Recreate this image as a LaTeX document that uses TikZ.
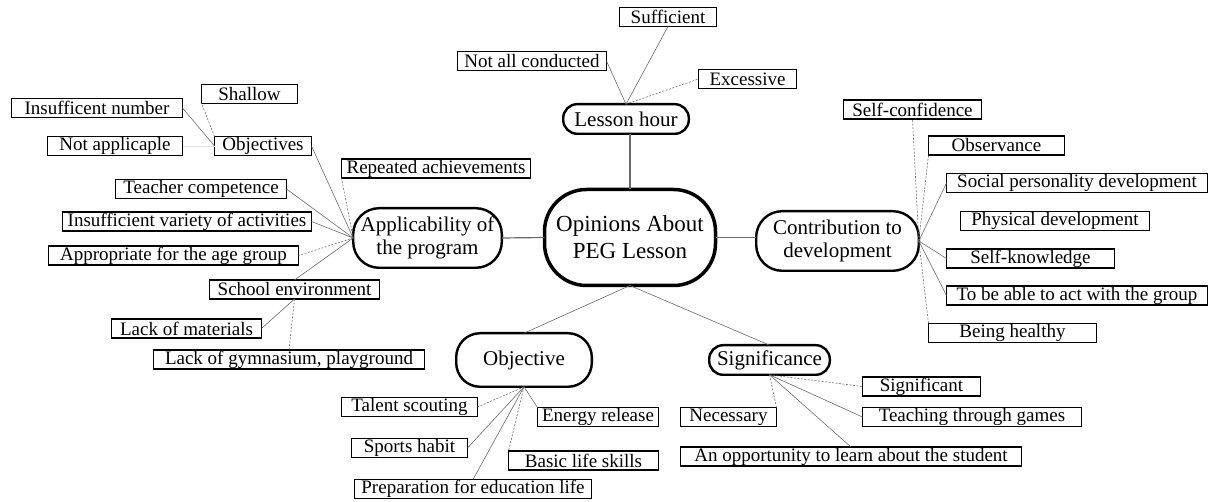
\documentclass[tikz,border=0pt]{standalone}
\usepackage{fontspec}
\setmainfont{Liberation Serif}
\usepackage{xcolor}
\definecolor{lnkgray}{RGB}{105,105,105}
\definecolor{faint}{RGB}{225,225,225}
\usepackage{tikz}
\tikzset{
  leaf/.style={draw,line width=1.1pt,inner sep=0pt,outer sep=0pt,minimum height=19pt,font=\fontsize{19}{21}\selectfont},
  topic/.style={draw,line width=2.4pt,rounded corners=#1,inner sep=0pt,outer sep=0pt,align=center,font=\fontsize{21}{23}\selectfont},
  hub/.style={draw,line width=3.5pt,rounded corners=42pt,inner sep=0pt,outer sep=0pt,align=center,font=\fontsize{23}{27}\selectfont},
  link/.style={draw=lnkgray,line width=0.6pt},
  dlink/.style={link,dash pattern=on 2pt off 1.5pt},
  trunk/.style={draw=lnkgray,line width=1.2pt}
}
\newcommand{\lnk}[2]{\draw[link] (#1) -- (#2);}
\newcommand{\dlnk}[2]{\draw[dlink] (#1) -- (#2);}

\begin{document}
\begin{tikzpicture}[x=1pt,y=-1pt]
\useasboundingbox (0,0) rectangle (1211,502);
% ---- CENTRE AND TOPICS ----
\node[hub,minimum width=171pt,minimum height=96pt] (main) at (630,237.5) {Opinions About\\PEG Lesson};
\node[topic=14pt,minimum width=125.6pt,minimum height=29.6pt] (lesson) at (626,119) {Lesson hour};
\node[topic=26pt,minimum width=148.6pt,minimum height=59.6pt] (app) at (427.5,238) {Applicability of\\the program};
\node[topic=26pt,minimum width=162.6pt,minimum height=59.6pt] (contrib) at (837.5,241) {Contribution to\\development};
\node[topic=24pt,minimum width=135.6pt,minimum height=53.6pt] (objtv) at (524,360) {Objective};
\node[topic=14pt,minimum width=120.6pt,minimum height=29.6pt] (sig) at (769.5,360) {Significance};
\draw[trunk] (main.north) -- (main.north |- lesson.south);
\draw[trunk] (main.west) -- (app.east);
\draw[trunk] (main.east) -- (main.east -| contrib.west);
\lnk{main.south}{objtv.north}
\lnk{main.south}{sig.north}
% ---- LESSON HOUR ----
\node[leaf,minimum width=97pt] (suff) at (668,17) {Sufficient};
\node[leaf,minimum width=149pt] (notall) at (532,61) {Not all conducted};
\node[leaf,minimum width=98pt] (exc) at (747.5,79) {Excessive};
\lnk{lesson.north}{notall.east}
\lnk{lesson.north}{suff.south}
\dlnk{lesson.north}{exc.west}
% ---- APPLICABILITY ----
\node[leaf,minimum width=96pt] (shallow) at (249.5,94) {Shallow};
\node[leaf,minimum width=171pt] (innum) at (97,108) {Insufficent number};
\node[leaf,minimum width=135pt] (notapp) at (115,146) {Not applicaple};
\node[leaf,minimum width=97pt] (objs) at (263,146) {Objectives};
\node[leaf,minimum width=189pt] (rep) at (436,168.5) {Repeated achievements};
\node[leaf,minimum width=171pt] (teach) at (201,189) {Teacher competence};
\node[leaf,minimum width=249pt] (var) at (187,221.5) {Insufficient variety of activities};
\node[leaf,minimum width=250pt] (appr) at (173.5,255.5) {Appropriate for the age group};
\node[leaf,minimum width=170pt] (school) at (294.5,289.5) {School environment};
\node[leaf,minimum width=150pt] (lackmat) at (186.5,328.5) {Lack of materials};
\node[leaf,minimum width=271pt] (gym) at (289,359.5) {Lack of gymnasium, playground};
\lnk{app.west}{objs.east}
\dlnk{app.west}{rep.south west}
\lnk{app.west}{teach.east}
\lnk{app.west}{var.east}
\dlnk{app.west}{appr.east}
\lnk{app.west}{school.north}
\lnk{objs.west}{innum.east}
\dlnk{objs.north west}{shallow.south west}
\draw[faint,line width=0.6pt] (objs.west) -- (notapp.east);
\lnk{school.south}{lackmat.east}
\dlnk{school.south}{gym.north}
% ---- CONTRIBUTION ----
\node[leaf,minimum width=138pt] (selfconf) at (912.5,109.5) {Self-confidence};
\node[leaf,minimum width=136pt] (obs) at (996.5,145.5) {Observance};
\node[leaf,minimum width=261pt] (soc) at (1077,183) {Social personality development};
\node[leaf,minimum width=189pt] (phys) at (1055,221) {Physical development};
\node[leaf,minimum width=168pt] (sk) at (1030.5,258.5) {Self-knowledge};
\node[leaf,minimum width=261pt] (grp) at (1077,295.5) {To be able to act with the group};
\node[leaf,minimum width=168pt] (heal) at (1012.5,333) {Being healthy};
\dlnk{contrib.east}{selfconf.south}
\dlnk{contrib.east}{obs.south west}
\lnk{contrib.east}{soc.west}
\lnk{contrib.east}{sk.west}
\lnk{contrib.east}{grp.west}
\dlnk{contrib.east}{heal.north west}
% ---- OBJECTIVE ----
\node[leaf,minimum width=136pt] (talent) at (409.5,407) {Talent scouting};
\node[leaf,minimum width=121pt] (energy) at (598,417) {Energy release};
\node[leaf,minimum width=116pt] (sports) at (409.5,448) {Sports habit};
\node[leaf,minimum width=150pt] (basic) at (583.5,460.5) {Basic life skills};
\node[leaf,minimum width=237pt] (prep) at (473,489) {Preparation for education life};
\dlnk{objtv.south}{talent.east}
\lnk{objtv.south}{energy.north west}
\lnk{objtv.south}{sports.east}
\dlnk{objtv.south}{basic.north west}
\lnk{objtv.south}{prep.north}
% ---- SIGNIFICANCE ----
\node[leaf,minimum width=118pt] (signif) at (921.5,386.5) {Significant};
\node[leaf,minimum width=219pt] (tg) at (972,417) {Teaching through games};
\node[leaf,minimum width=96pt] (nec) at (728.5,417) {Necessary};
\node[leaf,minimum width=341pt] (opp) at (851,456.5) {An opportunity to learn about the student};
\dlnk{sig.south}{signif.west}
\lnk{sig.south}{tg.west}
\dlnk{sig.south}{nec.north east}
\lnk{sig.south}{opp.north}
\end{tikzpicture}
\end{document}
